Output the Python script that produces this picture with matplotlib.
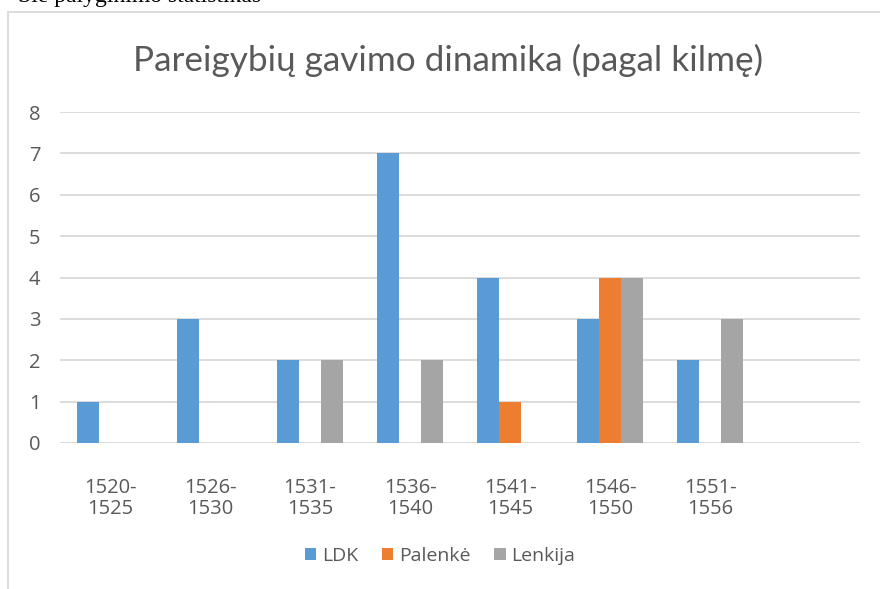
import matplotlib.pyplot as plt
from matplotlib.patches import Rectangle
import numpy as np

plt.rcParams['font.family'] = ['Open Sans', 'DejaVu Sans']

periods = ['1520-\n1525', '1526-\n1530', '1531-\n1535', '1536-\n1540',
           '1541-\n1545', '1546-\n1550', '1551-\n1556', '']
ldk = [1, 3, 2, 7, 4, 3, 2, 0]
palenke = [0, 0, 0, 0, 1, 4, 0, 0]
lenkija = [0, 0, 2, 2, 0, 4, 3, 0]
series_names = ['LDK', 'Palenkė', 'Lenkija']
colors = ['#5B9BD5', '#ED7D31', '#A5A5A5']

W, H = 880, 589
fig = plt.figure(figsize=(W / 100, H / 100), dpi=100)

# chart frame (cut by the page on the right and bottom)
fig.patches.append(Rectangle((8 / W, -0.1), 1.2, 1 - 12 / H + 0.1,
                             transform=fig.transFigure, fill=False,
                             edgecolor='#d9d9d9', lw=1.3))
# cut-off line of page text above the chart
fig.text(0.02, 1 - 2 / H, 'Šie palyginimo statistikas', family='Liberation Serif',
         fontsize=17, va='baseline', ha='left', color='black')

ax = fig.add_axes([60 / W, (H - 443) / H, 800 / W, 331 / H])
x = np.arange(len(periods))
bw = 0.22
for i, (vals, c) in enumerate(zip([ldk, palenke, lenkija], colors)):
    ax.bar(x + (i - 1) * bw, vals, bw, color=c, label=series_names[i], zorder=3)

ax.set_xlim(-0.5, len(periods) - 0.5)
ax.set_ylim(0, 8)
ax.set_yticks(range(9))
ax.set_xticks(x)
ax.set_xticklabels(periods, linespacing=1.1)
ax.grid(axis='y', color='#d9d9d9', lw=1.3, zorder=0)
for s in ax.spines.values():
    s.set_visible(False)
ax.tick_params(length=0, labelsize=14.5, colors='#595959')
ax.tick_params(axis='x', pad=25)
ax.tick_params(axis='y', pad=14)

fig.text(448 / W, 1 - 60 / H, 'Pareigybių gavimo dinamika (pagal kilmę)',
         ha='center', va='center', fontsize=25.3, color='#595959',
         family=['Lato', 'DejaVu Sans'])

fig.legend(loc='center', bbox_to_anchor=(0.5, 1 - 556 / H), ncol=3,
           frameon=False, fontsize=14, labelcolor='#595959',
           handlelength=0.6, handleheight=0.6, handletextpad=0.3,
           columnspacing=1.2)

fig.savefig('out.png', dpi=100)
